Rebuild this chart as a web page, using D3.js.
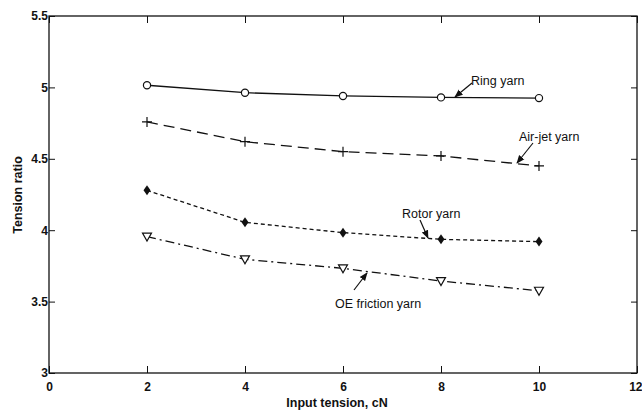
<!DOCTYPE html>
<html><head><meta charset="utf-8">
<script src="https://cdn.jsdelivr.net/npm/d3@7"></script>
<style>body{margin:0;background:#fff}svg{display:block}text{font-family:"Liberation Sans Narrow","Liberation Sans",Arial,sans-serif;fill:#111}</style>
</head><body><svg id="c" width="642" height="411"></svg>
<script>
const xValues = [2, 4, 6, 8, 10];
const ringYarn = [5.015, 4.963, 4.94, 4.93, 4.925];
const airJetYarn = [4.758, 4.62, 4.55, 4.52, 4.45];
const rotorYarn = [4.279, 4.055, 3.983, 3.936, 3.92];
const oeFrictionYarn = [3.955, 3.796, 3.733, 3.644, 3.576];
const xTicks = [0, 2, 4, 6, 8, 10, 12];
const yTicks = [3, 3.5, 4, 4.5, 5, 5.5];
const yTickLabels = ["3", "3.5", "4", "4.5", "5", "5.5"];
const seriesNames = ["Ring yarn", "Air-jet yarn", "Rotor yarn", "OE friction yarn"];

const svg = d3.select("#c");
const L = 49, R = 637, T = 16, B = 373;
const x = d3.scaleLinear().domain([0, 12]).range([L, R]);
const y = d3.scaleLinear().domain([3, 5.5]).range([B, T]);
const ink = "#111";

// frame
svg.append("rect").attr("x", L).attr("y", T).attr("width", R - L).attr("height", B - T)
  .attr("fill", "none").attr("stroke", ink).attr("stroke-width", 1.3);

// axes with inward ticks
const ax = (g) => g.selectAll(".domain").remove();
svg.append("g").attr("transform", `translate(0,${B})`)
  .call(d3.axisBottom(x).tickValues(xTicks).tickSize(-7).tickPadding(9).tickFormat(d3.format("d")))
  .call(ax).call(g => {
    g.selectAll("line").attr("stroke", ink);
    g.selectAll("text").attr("font-size", 12).attr("font-weight", "bold").style("font-family", null);
    g.selectAll("text").filter(d => d === 12).attr("text-anchor", "end").attr("dx", 642 - R);
  });
svg.append("g").attr("transform", `translate(0,${T})`)
  .call(d3.axisTop(x).tickValues(xTicks).tickSize(-7).tickFormat(""))
  .call(ax).call(g => g.selectAll("line").attr("stroke", ink));
svg.append("g").attr("transform", `translate(${L},0)`)
  .call(d3.axisLeft(y).tickValues(yTicks).tickSize(-6).tickPadding(1).tickFormat((d, i) => yTickLabels[i]))
  .call(ax).call(g => { g.selectAll("line").attr("stroke", ink); g.selectAll("text").attr("font-size", 12).attr("font-weight", "bold").style("font-family", null); });
svg.append("g").attr("transform", `translate(${R},0)`)
  .call(d3.axisRight(y).tickValues(yTicks).tickSize(-6).tickFormat(""))
  .call(ax).call(g => g.selectAll("line").attr("stroke", ink));

// axis titles
svg.append("text").attr("x", 337).attr("y", 407).attr("text-anchor", "middle").attr("font-size", 12.5).attr("font-weight", "bold").text("Input tension, cN");
svg.append("text").attr("transform", "translate(22,195) rotate(-90)").attr("text-anchor", "middle").attr("font-size", 12.5).attr("font-weight", "bold").text("Tension ratio");

const line = d3.line().x((d, i) => x(xValues[i])).y(d => y(d));
const series = [
  { data: ringYarn, dash: null, marker: "circle" },
  { data: airJetYarn, dash: "11,6", marker: "plus" },
  { data: rotorYarn, dash: "4,3", marker: "diamond" },
  { data: oeFrictionYarn, dash: "9,4,2,4", marker: "tri" }
];
series.forEach(s => {
  svg.append("path").datum(s.data).attr("d", line).attr("fill", "none")
    .attr("stroke", ink).attr("stroke-width", 1.3).attr("stroke-dasharray", s.dash);
  const g = svg.append("g");
  s.data.forEach((v, i) => {
    const cx = x(xValues[i]), cy = y(v);
    if (s.marker === "circle") g.append("circle").attr("cx", cx).attr("cy", cy).attr("r", 3.6).attr("fill", "#fff").attr("stroke", ink).attr("stroke-width", 1.2);
    if (s.marker === "plus") g.append("path").attr("d", `M${cx-5},${cy}H${cx+5}M${cx},${cy-5}V${cy+5}`).attr("stroke", ink).attr("stroke-width", 1.2);
    if (s.marker === "diamond") g.append("path").attr("d", `M${cx},${cy-5}L${cx+3.5},${cy}L${cx},${cy+5}L${cx-3.5},${cy}Z`).attr("fill", ink);
    if (s.marker === "tri") g.append("path").attr("d", `M${cx-4.5},${cy-3.5}L${cx+4.5},${cy-3.5}L${cx},${cy+4.5}Z`).attr("fill", "#fff").attr("stroke", ink).attr("stroke-width", 1.2);
  });
});

// annotations with arrows
svg.append("defs").append("marker").attr("id", "ah").attr("viewBox", "0 0 10 10").attr("refX", 9).attr("refY", 5)
  .attr("markerWidth", 7).attr("markerHeight", 7).attr("orient", "auto")
  .append("path").attr("d", "M0,1L10,5L0,9Z").attr("fill", ink);
const notes = [
  { t: seriesNames[0], tx: 471, ty: 85, a: [472, 83, 455, 97] },
  { t: seriesNames[1], tx: 519, ty: 141, a: [533, 143, 517, 163] },
  { t: seriesNames[2], tx: 402, ty: 218, a: [420, 220, 428, 238] },
  { t: seriesNames[3], tx: 335, ty: 308, a: [354, 290, 367, 273] }
];
notes.forEach(n => {
  svg.append("text").attr("x", n.tx).attr("y", n.ty).attr("font-size", 12.5).text(n.t);
  svg.append("line").attr("x1", n.a[0]).attr("y1", n.a[1]).attr("x2", n.a[2]).attr("y2", n.a[3])
    .attr("stroke", ink).attr("stroke-width", 1.2).attr("marker-end", "url(#ah)");
});
</script></body></html>
